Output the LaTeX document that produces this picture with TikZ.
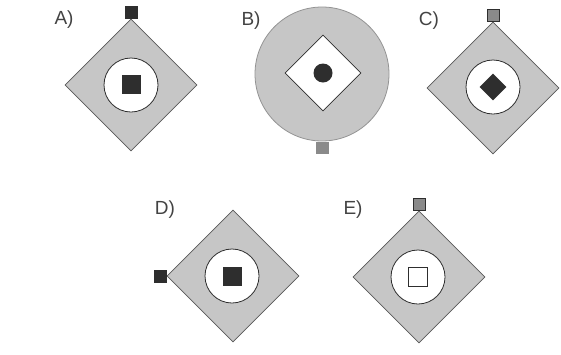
\documentclass[tikz,border=0pt]{standalone}
\usepackage{fontspec}
\setmainfont{Liberation Sans}
\usetikzlibrary{shapes.geometric}
\definecolor{panel}{HTML}{C6C6C6}
\definecolor{ink}{HTML}{2E2E2E}
\definecolor{tab}{HTML}{8A8A8A}
\tikzset{
  bigdia/.style={diamond, aspect=1, draw=ink!80, line width=0.6pt, fill=panel, minimum width=132pt, minimum height=132pt, inner sep=0pt},
  hole/.style={circle, draw=ink, line width=0.8pt, fill=white, minimum size=54pt, inner sep=0pt},
  solidsq/.style={rectangle, fill=ink, minimum size=19pt, inner sep=0pt},
  opensq/.style={rectangle, draw=ink, line width=0.7pt, fill=white, minimum size=19pt, inner sep=0pt},
  soliddia/.style={diamond, aspect=1, fill=ink, minimum width=27pt, minimum height=27pt, inner sep=0pt},
  tabdark/.style={rectangle, fill=ink, minimum size=13pt, inner sep=0pt},
  tabgray/.style={rectangle, draw=ink, line width=0.6pt, fill=tab, minimum size=12pt, inner sep=0pt},
  lbl/.style={font=\fontsize{19}{22}\selectfont, inner sep=0pt, text=ink!90}
}
\begin{document}
\begin{tikzpicture}[x=1pt,y=-1pt]
\useasboundingbox (0,0) rectangle (561,354);
% A
\node[lbl] (la) at (64,20) {A)};
\node[bigdia] (da) at (131,85) {};
\node[hole] (ca) at (131,85) {};
\node[solidsq] (sa) at (131,84.5) {};
\node[tabdark, anchor=south] (ta) at (da.north) {};
% B
\node[lbl] (lb) at (251,21) {B)};
\node[circle, draw=gray!85, line width=0.8pt, fill=panel, minimum size=134pt, inner sep=0pt] (cb) at (322,74) {};
\node[diamond, aspect=1, draw=ink, line width=0.8pt, fill=white, minimum width=76pt, minimum height=76pt, inner sep=0pt] (db) at (323,73) {};
\node[circle, fill=ink, minimum size=19pt, inner sep=0pt] (pb) at (323,73) {};
\node[rectangle, fill=tab, minimum width=13pt, minimum height=12pt, inner sep=0pt, anchor=north] (tb) at (cb.south) {};
% C
\node[lbl] (lc) at (429,21) {C)};
\node[bigdia] (dc) at (493,88) {};
\node[hole] (cc) at (493,87) {};
\node[soliddia] (sc) at (493,87) {};
\node[tabgray, anchor=south] (tc) at (dc.north) {};
% D
\node[lbl] (ld) at (165,210) {D)};
\node[bigdia] (dd) at (233,276) {};
\node[hole] (cd) at (232,276) {};
\node[solidsq] (sd) at (232,276) {};
\node[tabdark, anchor=east] (td) at (dd.west) {};
% E
\node[lbl] (le) at (353,210) {E)};
\node[bigdia] (de) at (419,277) {};
\node[hole] (ce) at (418,277) {};
\node[opensq] (se) at (418,277) {};
\node[tabgray, anchor=south] (te) at (de.north) {};
\end{tikzpicture}
\end{document}
